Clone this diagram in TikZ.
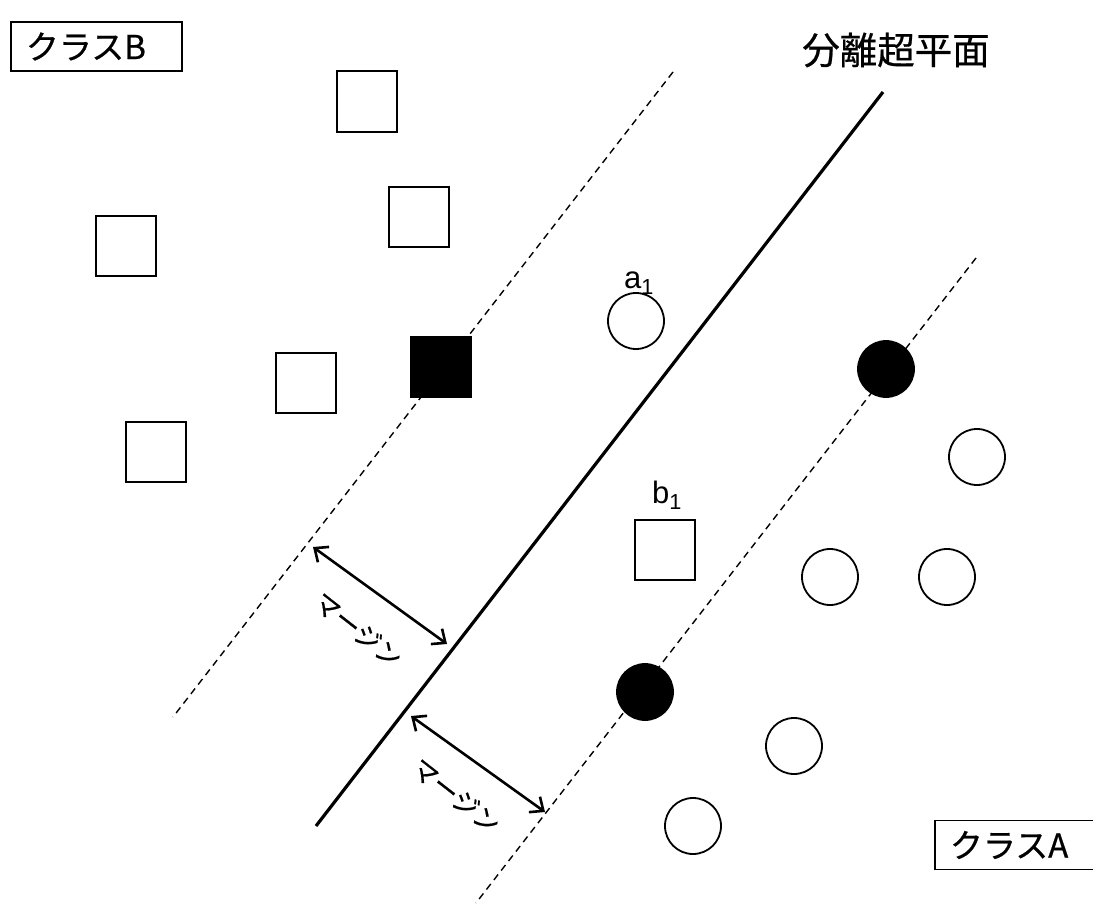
\documentclass[tikz,border=0pt]{standalone}
\usepackage{fontspec}
\setmainfont{Liberation Sans}
\newfontfamily\jp[FakeBold=0.6]{Noto Sans CJK JP}
\usetikzlibrary{arrows.meta}
\begin{document}
\begin{tikzpicture}[x=1pt,y=-1pt,
  sq/.style={draw, line width=2pt, minimum size=60pt, inner sep=0pt},
  circ/.style={circle, draw, line width=1.8pt, minimum size=56pt, inner sep=0pt},
  classbox/.style={draw, line width=1.8pt, anchor=west, minimum height=49pt, inner xsep=15pt, align=left, font=\jp\fontsize{33}{38}\selectfont},
  hyper/.style={line width=3.2pt},
  marginline/.style={line width=1.4pt, dash pattern=on 7pt off 5pt},
  marginarrow/.style={line width=2.6pt, {Straight Barb[length=11pt,width=19pt,line width=2.6pt]}-{Straight Barb[length=11pt,width=19pt,line width=2.6pt]}},
  marginlbl/.style={font=\jp\fontsize{26}{30}\selectfont, rotate=-38, inner sep=0pt},
  ptlbl/.style={font=\fontsize{31}{34}\selectfont, inner sep=0pt}]
\useasboundingbox (0,0) rectangle (1093,907);

% labels
\node[classbox, text width=141pt] (clB) at (10,46.5) {クラスB};
\node[classbox, text width=150pt] (clA) at (934,845) {クラスA};
\node[font=\jp\fontsize{37.5}{42}\selectfont] (title) at (896,50) {分離超平面};

% lines
\coordinate (h1) at (883,92);
\coordinate (h2) at (316,826);
\coordinate (u1) at (673,72);
\coordinate (u2) at (173,717);
\coordinate (l1) at (976,258);
\coordinate (l2) at (476,903);
\draw[hyper] (h1) -- (h2);
\draw[marginline] (u1) -- (u2);
\draw[marginline] (l1) -- (l2);

% squares (class B)
\node[sq] (s1) at (367,101.5) {};
\node[sq] (s2) at (418.5,216.5) {};
\node[sq] (s3) at (126,246) {};
\node[sq] (s4) at (306,383) {};
\node[sq] (s5) at (156,452) {};
\node[sq, fill=black] (sv) at (441,367) {};
\node[sq] (b1) at (665,550) {};

% circles (class A)
\node[circ] (a1) at (636,321) {};
\node[circ, fill=black] (cv1) at (886,369) {};
\node[circ] (c2) at (977,457) {};
\node[circ] (c3) at (830,577) {};
\node[circ] (c4) at (947,577) {};
\node[circ, fill=black] (cv2) at (645,692) {};
\node[circ] (c5) at (794,746) {};
\node[circ] (c6) at (693,826) {};

\node[ptlbl] (a1l) at (639,283) {a\textsubscript{1}};
\node[ptlbl] (b1l) at (667,495) {b\textsubscript{1}};

% margins
\coordinate (m1a) at (313,547);
\coordinate (m1b) at (447,644);
\coordinate (m2a) at (411,716);
\coordinate (m2b) at (545,812);
\draw[marginarrow] (m1a) -- (m1b);
\draw[marginarrow] (m2a) -- (m2b);
\node[marginlbl] (mt1) at (358,630) {マージン};
\node[marginlbl] (mt2) at (456,796) {マージン};
\end{tikzpicture}
\end{document}
